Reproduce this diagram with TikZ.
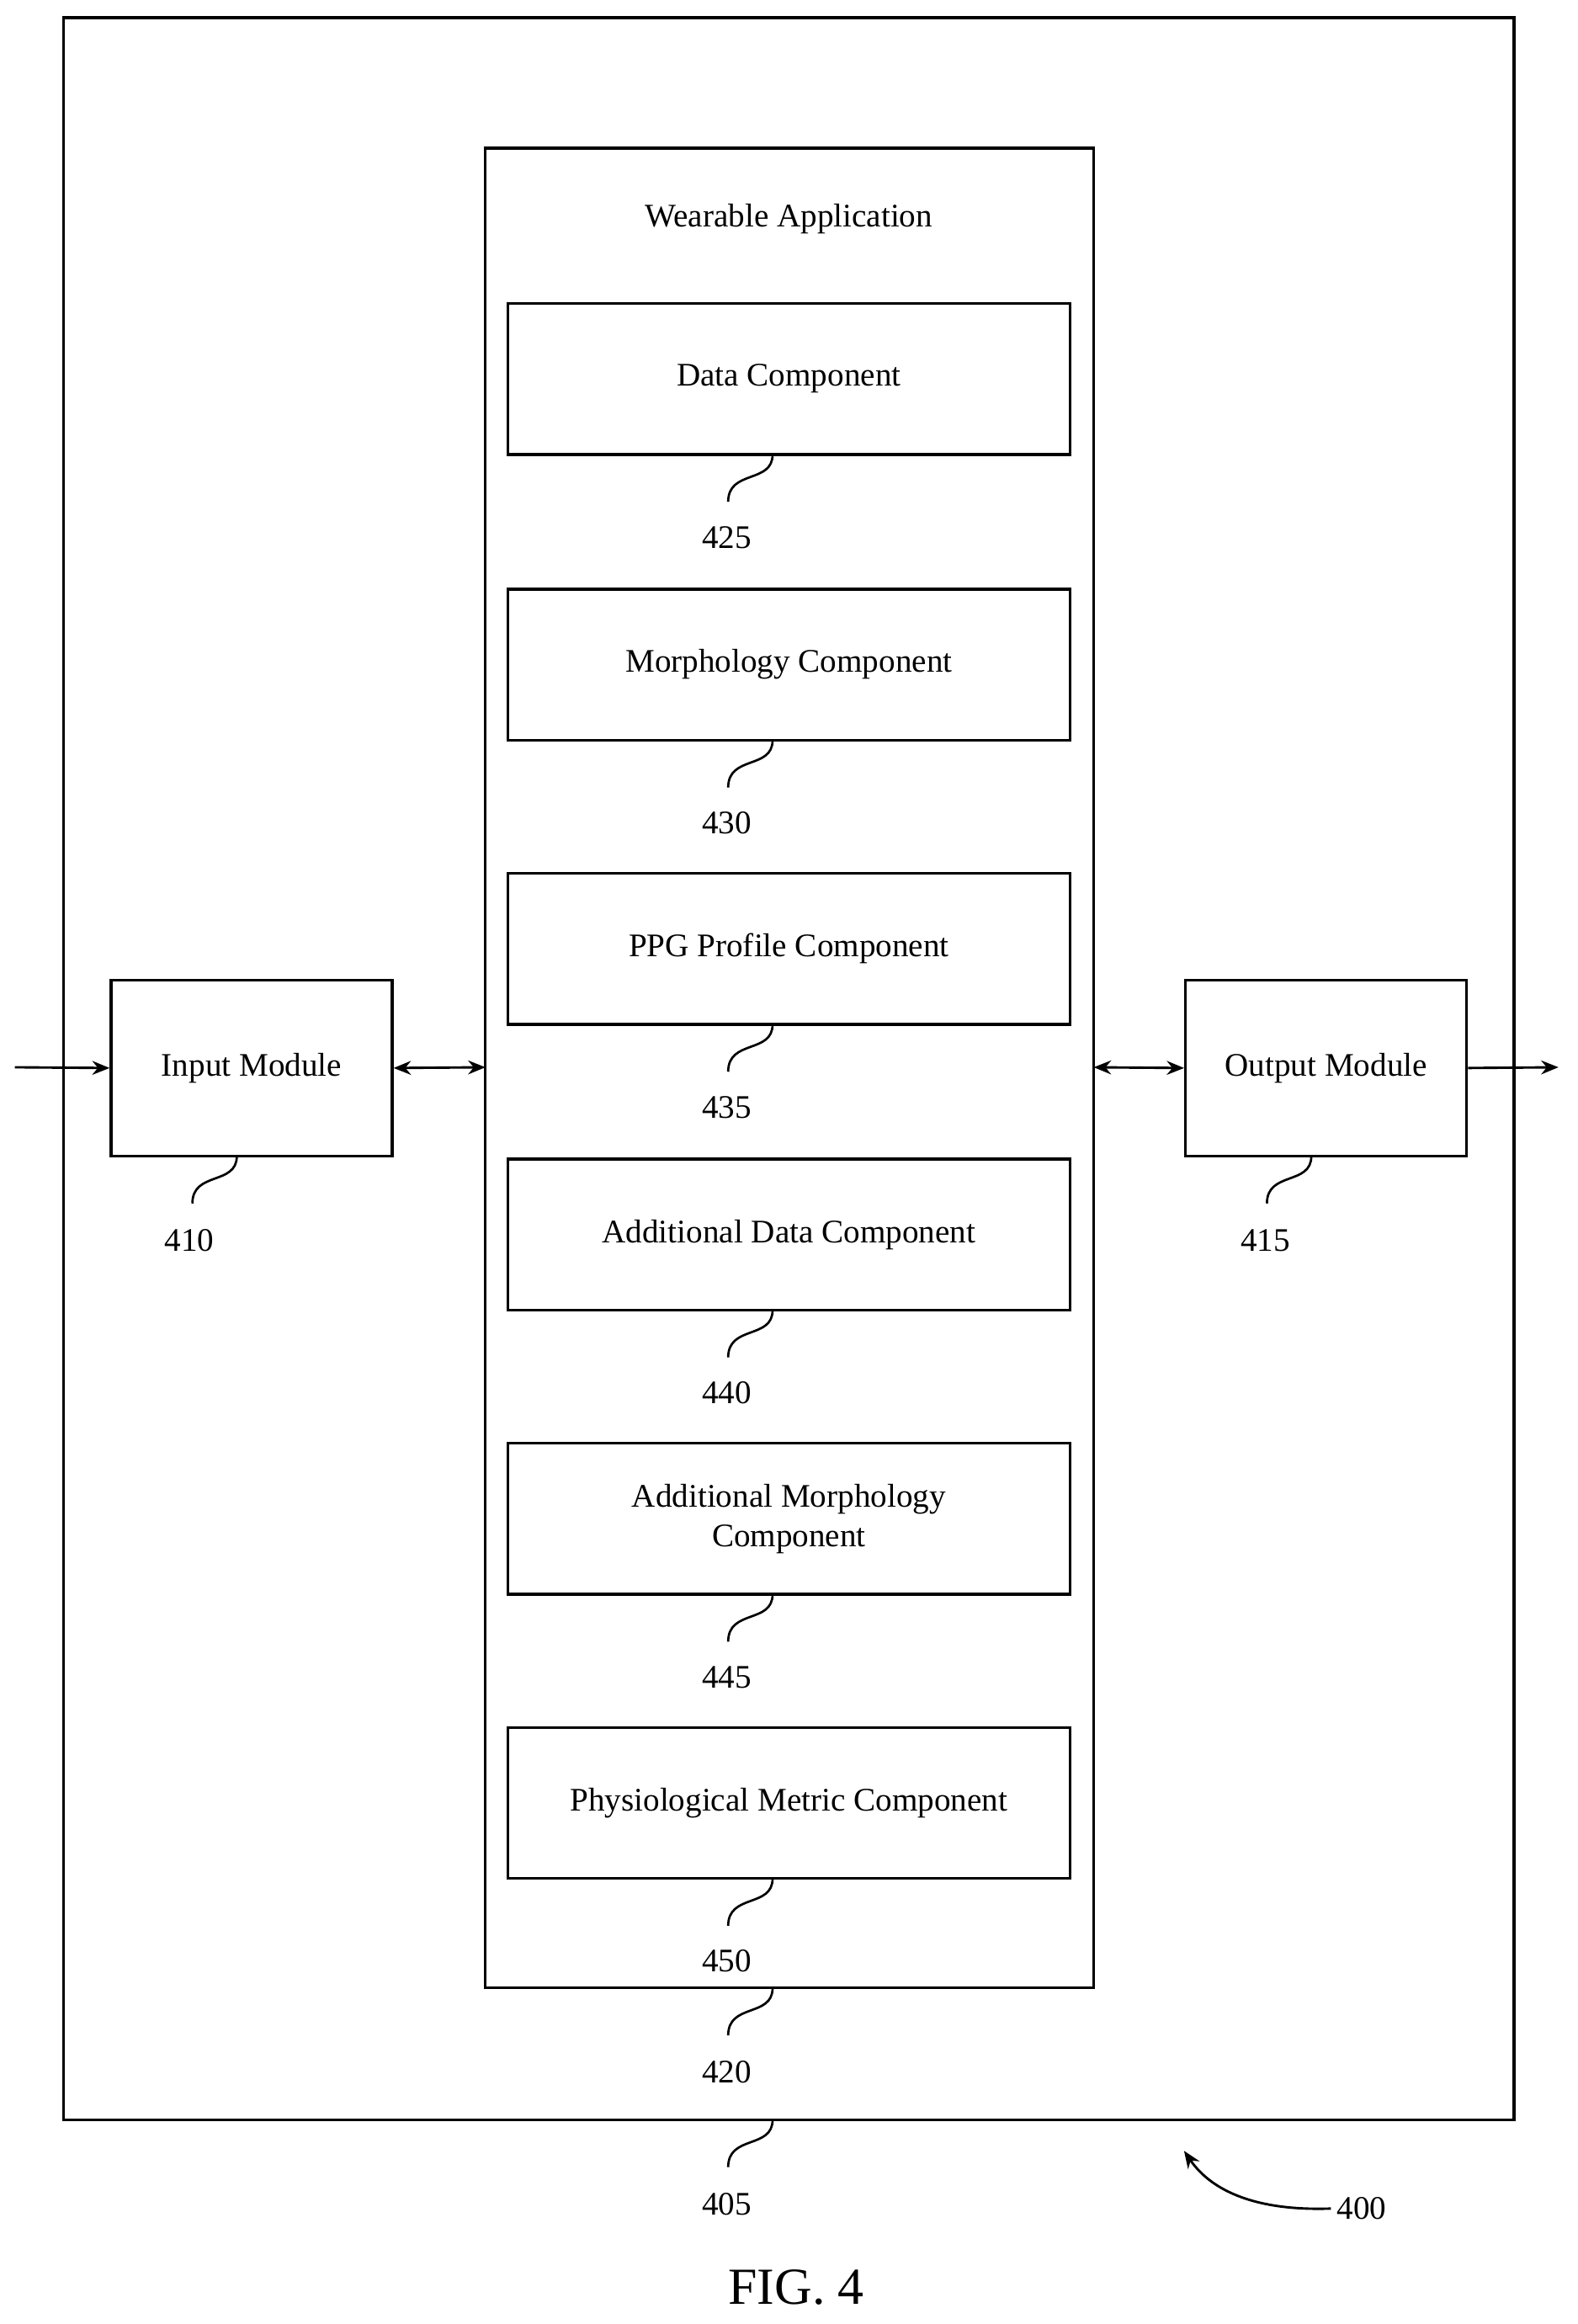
\documentclass[tikz,border=0pt]{standalone}
\usepackage{fontspec}
\setmainfont{Liberation Serif}
\usetikzlibrary{arrows.meta}
\begin{document}
\begin{tikzpicture}[x=0.03cm,y=-0.03cm,
  box/.style={draw,line width=1.6pt,inner sep=0pt},
  txt/.style={font=\fontsize{19}{23}\selectfont,align=center},
  lbl/.style={font=\fontsize{19}{23}\selectfont},
  sq/.style={line width=1.3pt},
  arr/.style={line width=1.4pt,-{Stealth[length=10pt,width=8pt]}},
  darr/.style={line width=1.4pt,{Stealth[length=10pt,width=8pt]}-{Stealth[length=10pt,width=8pt]}}]
\useasboundingbox (0,0) rectangle (1066,1570);
\draw[box] (43,12) rectangle (1023,1432);
\draw[box] (328,100) rectangle (739,1343);
\node[txt] (title) at (533,148) {Wearable Application};
\foreach \y/\t/\n in {205/Data Component/425,398/Morphology Component/430,590/PPG Profile Component/435,783/Additional Data Component/440,975/{Additional Morphology\\Component}/445,1167/Physiological Metric Component/450}{
  \draw[box] (343,\y) rectangle (723,\y+102);
  \node[txt] (c\n) at (533,\y+51) {\t};
  \node[lbl] (l\n) at (491,\y+158) {\n};
  \draw[sq] (522,\y+102) .. controls (522,\y+122) and (492,\y+112) .. (492,\y+134);
}
\node[box,minimum width=190*0.03cm,minimum height=119*0.03cm,txt] (in) at (170,721.5) {Input Module};
\node[box,minimum width=190*0.03cm,minimum height=119*0.03cm,txt] (out) at (896,721.5) {Output Module};
\coordinate (inL) at (10,721);
\coordinate (outR) at (1053,721);
\coordinate (appL) at (328,721);
\coordinate (appR) at (739,721);
\draw[arr] (inL) -- (in.west);
\draw[darr] (in.east) -- (appL);
\draw[darr] (appR) -- (out.west);
\draw[arr] (out.east) -- (outR);
\node[lbl] (l410) at (128,838) {410};
\draw[sq] (160,781) .. controls (160,801) and (130,791) .. (130,813);
\node[lbl] (l415) at (855,838) {415};
\draw[sq] (886,781) .. controls (886,801) and (856,791) .. (856,813);
\node[lbl] (l420) at (491,1400) {420};
\draw[sq] (522,1343) .. controls (522,1363) and (492,1353) .. (492,1375);
\node[lbl] (l405) at (491,1489) {405};
\draw[sq] (522,1432) .. controls (522,1452) and (492,1442) .. (492,1464);
\node[lbl] (l400) at (920,1492) {400};
\draw[arr] (l400.west) .. controls (840,1494) and (815,1475) .. (800,1453);
\node[font=\fontsize{30}{34}\selectfont] (fig) at (538,1545) {FIG. 4};
\end{tikzpicture}
\end{document}
